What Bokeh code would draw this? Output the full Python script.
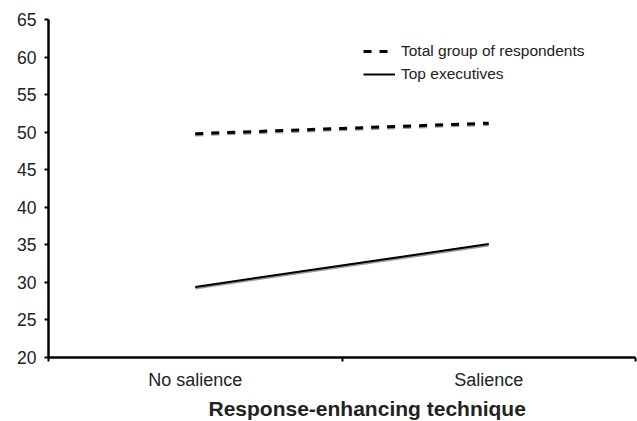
from bokeh.plotting import figure
from bokeh.models import (Range1d, FixedTicker, Legend, LegendItem, Title,
                          ColumnDataSource)
from bokeh.transform import dodge
from bokeh.embed import file_html
from bokeh.resources import INLINE

# ---- data ----
categories = ["No salience", "Salience"]
total_group = [49.8, 51.2]
top_executives = [29.4, 35.1]
y_ticks = [20, 25, 30, 35, 40, 45, 50, 55, 60, 65]
x_title = "Response-enhancing technique"
series_names = ["Total group of respondents", "Top executives"]

n = len(categories)
xs = [i + 0.5 for i in range(n)]
src = ColumnDataSource(dict(x=xs, total=total_group, top=top_executives))

FONT = "Liberation Sans"
TXT = "#222222"

p = figure(width=637, height=421, output_backend="svg", toolbar_location=None,
           x_range=Range1d(0, n), y_range=Range1d(y_ticks[0], y_ticks[-1]),
           min_border_left=48, min_border_right=2, min_border_top=19,
           min_border_bottom=62)
p.outline_line_color = None
p.xgrid.visible = False
p.ygrid.visible = False
p.background_fill_color = "white"
p.border_fill_color = "white"

# shadows
shadow = "#9a9a9a"
p.line(x="x", y=dodge("total", -0.17), source=src, line_color=shadow,
       line_width=3, line_dash="8 8")
p.line(x="x", y=dodge("top", -0.17), source=src, line_color=shadow,
       line_width=2.5)
# main lines
r_total = p.line(x="x", y="total", source=src, line_color="black",
                 line_width=3, line_dash="8 8")
r_top = p.line(x="x", y="top", source=src, line_color="black", line_width=2)

# x axis
xa = p.xaxis[0]
xa.ticker = FixedTicker(ticks=xs, minor_ticks=list(range(n + 1)))
xa.major_label_overrides = {x: c for x, c in zip(xs, categories)}
xa.major_tick_out = 0
xa.major_tick_in = 0
xa.minor_tick_out = 4
xa.minor_tick_in = 0
xa.minor_tick_line_color = "black"
xa.minor_tick_line_width = 2
xa.axis_line_color = "black"
xa.axis_line_width = 2.5
xa.major_label_text_font = FONT
xa.major_label_text_font_size = "18px"
xa.major_label_text_color = TXT
xa.major_label_standoff = 8

# y axis
ya = p.yaxis[0]
ya.ticker = FixedTicker(ticks=y_ticks, minor_ticks=[])
ya.major_tick_out = 4
ya.major_tick_in = 0
ya.major_tick_line_color = "black"
ya.major_tick_line_width = 2
ya.axis_line_color = "black"
ya.axis_line_width = 2.5
ya.major_label_text_font = FONT
ya.major_label_text_font_size = "17.5px"
ya.major_label_text_color = TXT
ya.major_label_standoff = 8

# x title
p.add_layout(Title(text=x_title, align="left", offset=160,
                   text_font=FONT, text_font_size="21px",
                   text_font_style="bold", text_color=TXT, standoff=4), "below")

legend = Legend(items=[LegendItem(label=series_names[0], renderers=[r_total]),
                       LegendItem(label=series_names[1], renderers=[r_top])],
                location=(315, 273), orientation="vertical",
                padding=0, margin=0, spacing=3,
                glyph_width=32, glyph_height=20, label_height=20,
                label_standoff=6,
                label_text_font=FONT, label_text_font_size="15.5px",
                label_text_color=TXT,
                border_line_color=None, background_fill_alpha=0)
p.add_layout(legend)

open("out.html", "w").write(file_html(p, INLINE))
